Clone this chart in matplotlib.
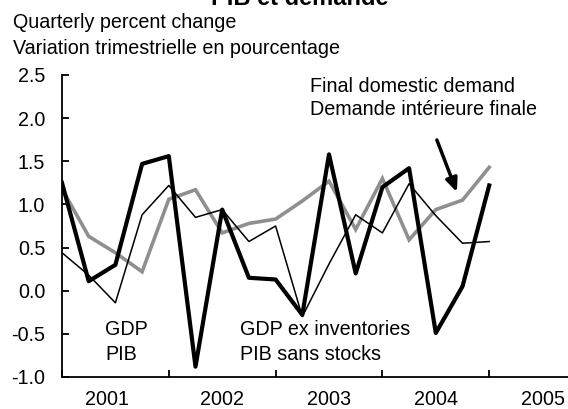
import matplotlib
matplotlib.use("Agg")
import matplotlib.pyplot as plt

plt.rcParams['font.family'] = ['Liberation Sans', 'DejaVu Sans']

# quarters Q1 2001 .. Q1 2005
quarters = list(range(17))
gdp = [1.25, 0.11, 0.30, 1.47, 1.56, -0.88, 0.94, 0.15, 0.13, -0.28,
       1.58, 0.20, 1.20, 1.42, -0.49, 0.05, 1.22]
gdp_ex_inv = [0.44, 0.18, -0.14, 0.88, 1.22, 0.85, 0.94, 0.57, 0.75, -0.30,
              0.31, 0.88, 0.67, 1.24, 0.87, 0.55, 0.57]
final_demand = [1.18, 0.63, 0.44, 0.22, 1.06, 1.17, 0.67, 0.78, 0.83, 1.04,
                1.27, 0.71, 1.30, 0.59, 0.94, 1.05, 1.43]

year_ticks = [0, 4, 8, 12, 16]
year_label_pos = [1.7, 6, 10, 14, 18]
year_labels = ["2001", "2002", "2003", "2004", "2005"]
y_ticks = [-1.0, -0.5, 0.0, 0.5, 1.0, 1.5, 2.0, 2.5]

fs = 14.2
fig = plt.figure(figsize=(5.68, 4.09), dpi=100)
ax = fig.add_axes([62 / 568, 1 - 377 / 409, 1 - 62 / 568, (377 - 75) / 409])

ax.plot(quarters, final_demand, color="#8f8f8f", lw=2.6, solid_joinstyle="miter")
ax.plot(quarters, gdp_ex_inv, color="black", lw=1.1)
ax.plot(quarters, gdp, color="black", lw=3.0)

ax.set_xlim(0, 506 / 26.7)
ax.set_ylim(-1.0, 2.5)

ax.spines["top"].set_visible(False)
ax.spines["right"].set_visible(False)
for s in ("left", "bottom"):
    ax.spines[s].set_linewidth(1.3)

ax.set_yticks(y_ticks)
ax.set_yticklabels([f"{v:.1f}" for v in y_ticks], fontsize=fs)
ax.tick_params(axis="y", direction="in", length=5, width=1.3, pad=12)

ax.set_xticks(year_ticks)
ax.set_xticklabels([])
ax.set_xticks(year_label_pos, minor=True)
ax.set_xticklabels(year_labels, minor=True, fontsize=fs)
ax.tick_params(axis="x", which="major", direction="in", length=5, width=1.3)
ax.tick_params(axis="x", which="minor", length=0, pad=9.5)

# series labels
ax.text(1.61, -0.513, "GDP", fontsize=fs, va="baseline")
ax.text(1.61, -0.80, "PIB", fontsize=fs, va="baseline")
ax.text(6.67, -0.513, "GDP ex inventories", fontsize=fs, va="baseline")
ax.text(6.67, -0.80, "PIB sans stocks", fontsize=fs, va="baseline")
ax.text(9.29, 2.303, "Final domestic demand", fontsize=fs, va="baseline")
ax.text(9.29, 2.036, "Demande intérieure finale", fontsize=fs, va="baseline")
ax.annotate("", xy=(14.79, 1.144), xytext=(14.04, 1.747),
            arrowprops=dict(arrowstyle="-|>,head_length=0.8,head_width=0.35",
                            color="black", lw=2.5, shrinkA=0, shrinkB=0))

fig.text(13 / 568, 1 - 28 / 409, "Quarterly percent change", fontsize=fs, va="baseline")
fig.text(13 / 568, 1 - 54 / 409, "Variation trimestrielle en pourcentage", fontsize=fs, va="baseline")
fig.text(300 / 568, 1 - 5 / 409, "PIB et demande", fontsize=17, fontweight="bold",
         ha="center", va="baseline")

fig.savefig("out.png", dpi=100)
